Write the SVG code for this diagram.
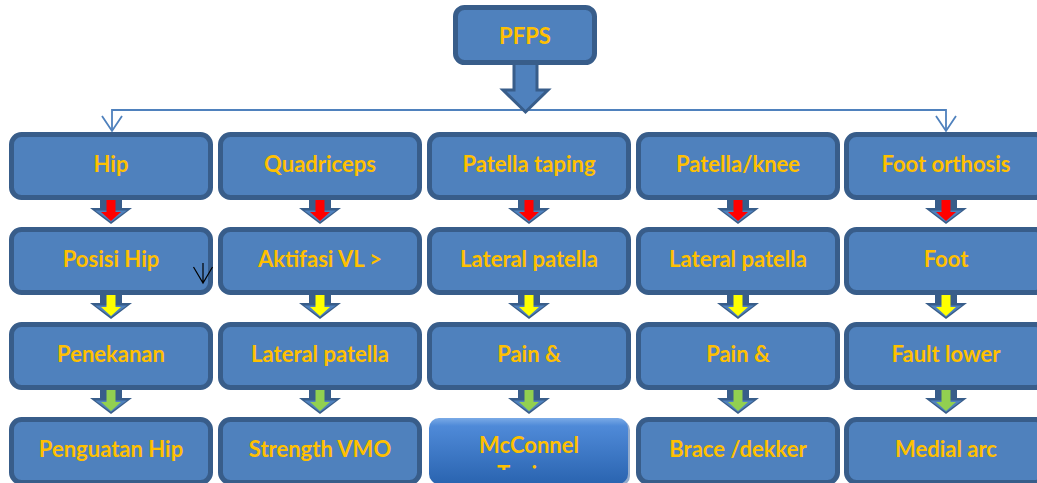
<svg xmlns="http://www.w3.org/2000/svg" width="1037" height="483" viewBox="0 0 1037 483">
<defs>
<style>
.box{fill:#4f81bd;stroke:#385d8a;stroke-width:5}
.t{font-family:Lato,"Liberation Sans",sans-serif;font-weight:bold;font-size:22px;fill:#ffc000;text-anchor:middle}
.conn{fill:none;stroke:#4f81bd;stroke-width:1.8}
.ao{fill:#385d8a}
.am{fill:#4f81bd}
.red{fill:#ff0000}
.yel{fill:#ffff00}
.grn{fill:#92d050}
</style>
<linearGradient id="gb" x1="0" y1="0" x2="0" y2="1">
<stop offset="0" stop-color="#7aaae6"/>
<stop offset="0.12" stop-color="#4f8ad8"/>
<stop offset="1" stop-color="#2a64b0"/>
</linearGradient>
<clipPath id="clipT"><rect x="430" y="418" width="200" height="52"/></clipPath>
<symbol id="arr" overflow="visible">
<polygon class="ao" points="-11,-12 11,-12 11,0 21,0 0,16 -21,0 -11,0"/>
<polygon class="am" points="-16,2.5 16,2.5 0,14"/>
</symbol>
</defs>

<g id="connectors">
<polyline class="conn" points="112,131 112,110 946,110 946,131"/>
<polyline class="conn" points="102,116 112,131 122,116"/>
<polyline class="conn" points="936,116 946,131 956,116"/>
<polygon points="514,62 537,62 537,90 548,90 525.5,112 503,90 514,90" fill="#4f81bd" stroke="#385d8a" stroke-width="3"/>
<g id="a12">
<use href="#arr" x="111" y="208"/><polygon class="red" points="106.5,198 115.5,198 115.5,212 121,212 111,221 101,212 106.5,212"/>
<use href="#arr" x="320" y="208"/><polygon class="red" points="315.5,198 324.5,198 324.5,212 330,212 320,221 310,212 315.5,212"/>
<use href="#arr" x="529" y="208"/><polygon class="red" points="524.5,198 533.5,198 533.5,212 539,212 529,221 519,212 524.5,212"/>
<use href="#arr" x="738" y="208"/><polygon class="red" points="733.5,198 742.5,198 742.5,212 748,212 738,221 728,212 733.5,212"/>
<use href="#arr" x="946" y="208"/><polygon class="red" points="941.5,198 950.5,198 950.5,212 956,212 946,221 936,212 941.5,212"/>
</g>
<g id="a23">
<use href="#arr" x="111" y="303"/><polygon class="yel" points="106.5,293 115.5,293 115.5,307 121,307 111,316 101,307 106.5,307"/>
<use href="#arr" x="320" y="303"/><polygon class="yel" points="315.5,293 324.5,293 324.5,307 330,307 320,316 310,307 315.5,307"/>
<use href="#arr" x="529" y="303"/><polygon class="yel" points="524.5,293 533.5,293 533.5,307 539,307 529,316 519,307 524.5,307"/>
<use href="#arr" x="738" y="303"/><polygon class="yel" points="733.5,293 742.5,293 742.5,307 748,307 738,316 728,307 733.5,307"/>
<use href="#arr" x="946" y="303"/><polygon class="yel" points="941.5,293 950.5,293 950.5,307 956,307 946,316 936,307 941.5,307"/>
</g>
<g id="a34">
<use href="#arr" x="111" y="398"/><polygon class="grn" points="106.5,388 115.5,388 115.5,402 121,402 111,411 101,402 106.5,402"/>
<use href="#arr" x="320" y="398"/><polygon class="grn" points="315.5,388 324.5,388 324.5,402 330,402 320,411 310,402 315.5,402"/>
<use href="#arr" x="529" y="398"/><polygon class="grn" points="524.5,388 533.5,388 533.5,402 539,402 529,411 519,402 524.5,402"/>
<use href="#arr" x="738" y="398"/><polygon class="grn" points="733.5,388 742.5,388 742.5,402 748,402 738,411 728,402 733.5,402"/>
<use href="#arr" x="946" y="398"/><polygon class="grn" points="941.5,388 950.5,388 950.5,402 956,402 946,411 936,402 941.5,402"/>
</g>
</g>

<g id="pfps"><rect class="box" x="455.5" y="7.5" width="139" height="55" rx="9"/><text class="t" x="525" y="44">PFPS</text></g>

<g id="hip"><rect class="box" x="11.5" y="134.5" width="199" height="63" rx="10"/><text class="t" x="111" y="172">Hip</text></g>
<g id="quadriceps"><rect class="box" x="220.5" y="134.5" width="199" height="63" rx="10"/><text class="t" x="320" y="172">Quadriceps</text></g>
<g id="patella-taping"><rect class="box" x="429.5" y="134.5" width="199" height="63" rx="10"/><text class="t" x="529" y="172">Patella taping</text></g>
<g id="patella-knee"><rect class="box" x="638.5" y="134.5" width="199" height="63" rx="10"/><text class="t" x="738" y="172">Patella/knee</text></g>
<g id="foot-orthosis"><rect class="box" x="846.5" y="134.5" width="199" height="63" rx="10"/><text class="t" x="946" y="172">Foot orthosis</text></g>

<g id="posisi-hip"><rect class="box" x="11.5" y="229.5" width="199" height="63" rx="10"/><text class="t" x="111" y="267">Posisi Hip</text>
<path d="M203,263 V283 M193.5,267 L203,283 L212.5,267" fill="none" stroke="#000" stroke-width="1.2"/></g>
<g id="aktifasi"><rect class="box" x="220.5" y="229.5" width="199" height="63" rx="10"/><text class="t" x="320" y="267">Aktifasi VL &gt;</text></g>
<g id="lateral-patella-1"><rect class="box" x="429.5" y="229.5" width="199" height="63" rx="10"/><text class="t" x="529" y="267">Lateral patella</text></g>
<g id="lateral-patella-2"><rect class="box" x="638.5" y="229.5" width="199" height="63" rx="10"/><text class="t" x="738" y="267">Lateral patella</text></g>
<g id="foot"><rect class="box" x="846.5" y="229.5" width="199" height="63" rx="10"/><text class="t" x="946" y="267">Foot</text></g>

<g id="penekanan"><rect class="box" x="11.5" y="324.5" width="199" height="63" rx="10"/><text class="t" x="111" y="362">Penekanan</text></g>
<g id="lateral-patella-3"><rect class="box" x="220.5" y="324.5" width="199" height="63" rx="10"/><text class="t" x="320" y="362">Lateral patella</text></g>
<g id="pain-1"><rect class="box" x="429.5" y="324.5" width="199" height="63" rx="10"/><text class="t" x="529" y="362">Pain &amp;</text></g>
<g id="pain-2"><rect class="box" x="638.5" y="324.5" width="199" height="63" rx="10"/><text class="t" x="738" y="362">Pain &amp;</text></g>
<g id="fault-lower"><rect class="box" x="846.5" y="324.5" width="199" height="63" rx="10"/><text class="t" x="946" y="362">Fault lower</text></g>

<g id="penguatan-hip"><rect class="box" x="11.5" y="419.5" width="199" height="63" rx="10"/><text class="t" x="111" y="457">Penguatan Hip</text></g>
<g id="strength-vmo"><rect class="box" x="220.5" y="419.5" width="199" height="63" rx="10"/><text class="t" x="320" y="457">Strength VMO</text></g>
<g id="mcconnel"><rect x="431" y="420" width="199" height="66" rx="10" fill="#2a5a9a" opacity="0.5"/><rect x="429" y="418" width="199" height="66" rx="10" fill="url(#gb)"/><text class="t" x="529" y="453">McConnel</text><text class="t" x="529" y="482" clip-path="url(#clipT)">Taping</text></g>
<g id="brace"><rect class="box" x="638.5" y="419.5" width="199" height="63" rx="10"/><text class="t" x="738" y="457">Brace /dekker</text></g>
<g id="medial-arc"><rect class="box" x="846.5" y="419.5" width="199" height="63" rx="10"/><text class="t" x="946" y="457">Medial arc</text></g>
</svg>
